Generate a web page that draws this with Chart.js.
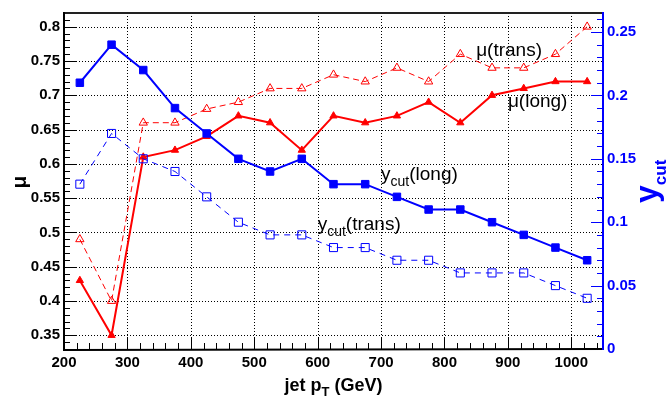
<!DOCTYPE html>
<html><head><meta charset="utf-8">
<script src="https://cdn.jsdelivr.net/npm/chart.js@4.4.0/dist/chart.umd.min.js"></script>
<style>html,body{margin:0;padding:0;background:#fff;}#wrap{width:668px;height:403px;}</style>
</head><body><div id="wrap"><canvas id="c" width="668" height="403"></canvas></div>
<script>
// ---- data ----
const jetPt = [225,275,325,375,425,475,525,575,625,675,725,775,825,875,925,975,1025];
const muLong = [0.43,0.35,0.61,0.62,0.64,0.67,0.66,0.62,0.67,0.66,0.67,0.69,0.66,0.70,0.71,0.72,0.72];
const muTrans = [0.49,0.40,0.66,0.66,0.68,0.69,0.71,0.71,0.73,0.72,0.74,0.72,0.76,0.74,0.74,0.76,0.80];
const ycutLong = [0.21,0.24,0.22,0.19,0.17,0.15,0.14,0.15,0.13,0.13,0.12,0.11,0.11,0.10,0.09,0.08,0.07];
const ycutTrans = [0.13,0.17,0.15,0.14,0.12,0.10,0.09,0.09,0.08,0.08,0.07,0.07,0.06,0.06,0.06,0.05,0.04];

const xTickValues = [200,300,400,500,600,700,800,900,1000];
const xTickLabels = ["200","300","400","500","600","700","800","900","1000"];
const muTickValues = [0.35,0.4,0.45,0.5,0.55,0.6,0.65,0.7,0.75,0.8];
const muTickLabels = ["0.35","0.4","0.45","0.5","0.55","0.6","0.65","0.7","0.75","0.8"];
const ycutTickValues = [0,0.05,0.1,0.15,0.2,0.25];
const ycutTickLabels = ["0","0.05","0.1","0.15","0.2","0.25"];

// annotation labels (data coordinates)
const notes = [
  {main:"\u03bc(trans)", sub:null, rest:null, x:850, y:0.757, axis:'y'},
  {main:"\u03bc(long)", sub:null, rest:null, x:900, y:0.6835, axis:'y'},
  {main:"y", sub:"cut", rest:"(long)", x:700, y:0.133, axis:'y1'},
  {main:"y", sub:"cut", rest:"(trans)", x:600, y:0.094, axis:'y1'}
];

const RED = 'rgb(255,0,0)', BLUE = 'rgb(0,0,255)';
const FONT = '"Liberation Sans", Arial, Helvetica, sans-serif';

function pts(ys){ return jetPt.map((x,i)=>({x:x, y:ys[i]})); }

const axesPlugin = {
  id:'rootAxes',
  beforeDatasetsDraw(chart){
    const ctx = chart.ctx, a = chart.chartArea;
    const sx = chart.scales.x, sy = chart.scales.y, sy1 = chart.scales.y1;
    ctx.save();
    // dotted grid
    ctx.strokeStyle = '#000'; ctx.lineWidth = 1; ctx.setLineDash([1,2]);
    muTickValues.forEach(v=>{
      const y = Math.round(sy.getPixelForValue(v))+0.5;
      ctx.beginPath(); ctx.moveTo(a.left, y); ctx.lineTo(a.right, y); ctx.stroke();
    });
    xTickValues.forEach(v=>{
      if (v===200) return;
      const x = Math.round(sx.getPixelForValue(v))+0.5;
      ctx.beginPath(); ctx.moveTo(x, a.top); ctx.lineTo(x, a.bottom); ctx.stroke();
    });
    ctx.setLineDash([]);
    // ticks: x axis
    ctx.strokeStyle = '#000'; ctx.lineWidth = 1;
    for (let k=200; k<=1040; k+=20){
      const x = Math.round(sx.getPixelForValue(k))+0.5;
      const len = (k%100===0) ? 12 : 6;
      ctx.beginPath(); ctx.moveTo(x, a.bottom); ctx.lineTo(x, a.bottom-len); ctx.stroke();
    }
    // ticks: left axis
    for (let k=33; k<=82; k++){
      const y = Math.round(sy.getPixelForValue(k/100))+0.5;
      const len = (k%5===0) ? 12 : 6;
      ctx.beginPath(); ctx.moveTo(a.left, y); ctx.lineTo(a.left+len, y); ctx.stroke();
    }
    // ticks: right axis
    ctx.strokeStyle = BLUE;
    for (let k=0; k<=26; k++){
      const y = Math.round(sy1.getPixelForValue(k/100))+0.5;
      const len = (k%5===0) ? 12 : 6;
      ctx.beginPath(); ctx.moveTo(a.right, y); ctx.lineTo(a.right-len, y); ctx.stroke();
    }
    // frame
    ctx.lineWidth = 2; ctx.strokeStyle = '#222';
    ctx.beginPath(); ctx.moveTo(a.left, a.top); ctx.lineTo(a.right, a.top); ctx.stroke();
    ctx.strokeStyle = '#000';
    ctx.beginPath(); ctx.moveTo(a.left, a.top-1); ctx.lineTo(a.left, a.bottom+1); ctx.lineTo(a.right, a.bottom); ctx.stroke();
    ctx.strokeStyle = BLUE;
    ctx.beginPath(); ctx.moveTo(a.right, a.top-1); ctx.lineTo(a.right, a.bottom+1); ctx.stroke();
    ctx.restore();
  },
  afterDatasetsDraw(chart){
    const ctx = chart.ctx, a = chart.chartArea;
    ctx.save();
    ctx.textBaseline = 'alphabetic'; ctx.textAlign = 'left';
    // annotations
    notes.forEach(n=>{
      let x = chart.scales.x.getPixelForValue(n.x);
      const y = chart.scales[n.axis].getPixelForValue(n.y);
      ctx.fillStyle = '#000';
      ctx.font = '19px ' + FONT;
      ctx.fillText(n.main, x, y); x += ctx.measureText(n.main).width;
      if (n.sub){
        ctx.font = '14px ' + FONT;
        ctx.fillText(n.sub, x, y+6); x += ctx.measureText(n.sub).width;
      }
      if (n.rest){
        ctx.font = '19px ' + FONT;
        ctx.fillText(n.rest, x, y);
      }
    });
    // x title
    const t1 = 'jet p', t2 = 'T', t3 = ' (GeV)';
    ctx.font = 'bold 18px ' + FONT; const w1 = ctx.measureText(t1).width, w3 = ctx.measureText(t3).width;
    ctx.font = 'bold 13px ' + FONT; const w2 = ctx.measureText(t2).width;
    let xs = (a.left + a.right)/2 - (w1+w2+w3)/2;
    ctx.fillStyle = '#000';
    ctx.font = 'bold 18px ' + FONT; ctx.fillText(t1, xs, 391); xs += w1;
    ctx.font = 'bold 13px ' + FONT; ctx.fillText(t2, xs, 396); xs += w2;
    ctx.font = 'bold 18px ' + FONT; ctx.fillText(t3, xs, 391);
    // left title mu
    ctx.save();
    ctx.translate(26, 182); ctx.rotate(-Math.PI/2);
    ctx.font = 'bold 21px ' + FONT; ctx.textAlign = 'center';
    ctx.fillText('\u03bc', 0, 0);
    ctx.restore();
    // right title y_cut
    ctx.save();
    ctx.translate(657, 203); ctx.rotate(-Math.PI/2);
    ctx.fillStyle = BLUE;
    ctx.font = 'bold 32px ' + FONT; ctx.fillText('y', 0, 0);
    const wy = ctx.measureText('y').width;
    ctx.font = 'bold 17px ' + FONT; ctx.fillText('cut', wy, 9);
    ctx.restore();
    ctx.restore();
  }
};

new Chart(document.getElementById('c'), {
  type:'line',
  data:{ datasets:[
    {label:'ycut(long)', data:pts(ycutLong), yAxisID:'y1', borderColor:BLUE, backgroundColor:BLUE, borderWidth:2,
     pointStyle:'rect', pointRadius:5.3, pointBorderWidth:1, pointBackgroundColor:BLUE, pointBorderColor:BLUE, order:1},
    {label:'ycut(trans)', data:pts(ycutTrans), yAxisID:'y1', borderColor:BLUE, borderWidth:1, borderDash:[6,5],
     pointStyle:'rect', pointRadius:5.7, pointBorderWidth:1, pointBackgroundColor:'rgba(0,0,0,0)', pointBorderColor:BLUE, order:2},
    {label:'mu(long)', data:pts(muLong), yAxisID:'y', borderColor:RED, backgroundColor:RED, borderWidth:2,
     pointStyle:'triangle', pointRadius:4.2, pointBorderWidth:1, pointBackgroundColor:RED, pointBorderColor:RED, order:3},
    {label:'mu(trans)', data:pts(muTrans), yAxisID:'y', borderColor:RED, borderWidth:1, borderDash:[6,4],
     pointStyle:'triangle', pointRadius:4.8, pointBorderWidth:1, pointBackgroundColor:'rgba(0,0,0,0)', pointBorderColor:RED, order:4}
  ]},
  options:{
    responsive:false, animation:false, devicePixelRatio:1,
    layout:{padding:{top:13, left:0, right:0, bottom:0}},
    plugins:{legend:{display:false}, tooltip:{enabled:false}},
    elements:{line:{tension:0}},
    scales:{
      x:{type:'linear', min:200, max:1050,
         afterBuildTicks:s=>{ s.ticks = xTickValues.map(v=>({value:v})); },
         afterFit:s=>{ s.height = 54; },
         grid:{display:false, drawTicks:false}, border:{display:false},
         ticks:{padding:5, maxRotation:0, autoSkip:false, color:'#000',
                font:{family:FONT, size:15, weight:'bold'},
                callback:(v,i)=>xTickLabels[i]}},
      y:{type:'linear', position:'left', min:0.33, max:0.82,
         afterBuildTicks:s=>{ s.ticks = muTickValues.map(v=>({value:v})); },
         afterFit:s=>{ s.width = 64; },
         grid:{display:false, drawTicks:false}, border:{display:false},
         ticks:{padding:4, autoSkip:false, color:'#000',
                font:{family:FONT, size:15, weight:'bold'},
                callback:(v,i)=>muTickLabels[i]}},
      y1:{type:'linear', position:'right', min:0, max:0.265,
         afterBuildTicks:s=>{ s.ticks = ycutTickValues.map(v=>({value:v})); },
         afterFit:s=>{ s.width = 65; },
         grid:{display:false, drawTicks:false}, border:{display:false},
         ticks:{padding:4, autoSkip:false, color:BLUE,
                font:{family:FONT, size:15, weight:'bold'},
                callback:(v,i)=>ycutTickLabels[i]}}
    }
  },
  plugins:[axesPlugin]
});
</script></body></html>
